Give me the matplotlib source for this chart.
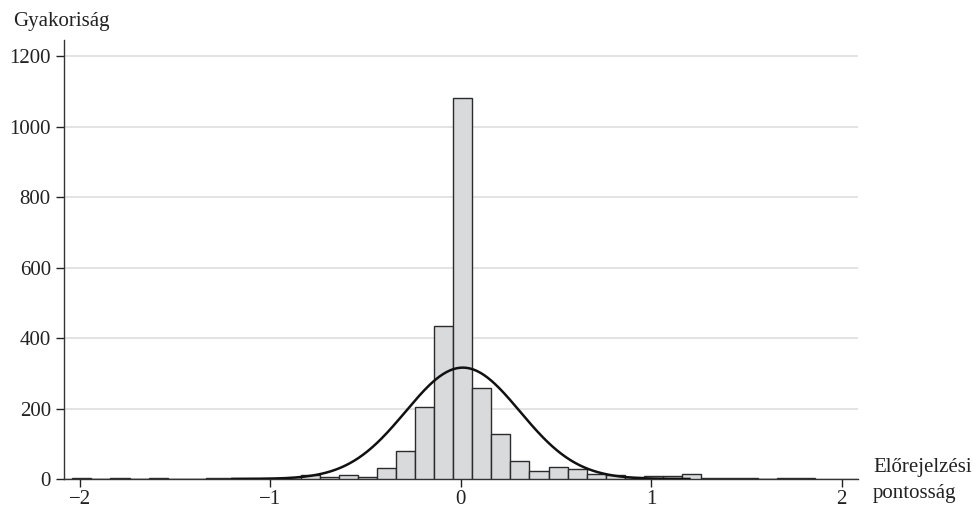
import numpy as np
import matplotlib
matplotlib.use("Agg")
import matplotlib.pyplot as plt

plt.rcParams["font.family"] = ["Liberation Serif", "DejaVu Serif"]

# histogram bins (left edges, width 0.1) and counts
bin_left = [-2.04, -1.94, -1.84, -1.74, -1.64, -1.54, -1.44, -1.34, -1.24, -1.14,
            -1.04, -0.94, -0.84, -0.74, -0.64, -0.54, -0.44, -0.34, -0.24, -0.14,
            -0.04, 0.06, 0.16, 0.26, 0.36, 0.46, 0.56, 0.66, 0.76, 0.86,
            0.96, 1.06, 1.16, 1.26, 1.36, 1.46, 1.56, 1.66, 1.76]
counts = [3, 0, 3, 0, 3, 0, 0, 2, 2, 2,
          2, 1, 10, 6, 12, 6, 31, 80, 205, 434,
          1080, 258, 128, 52, 22, 33, 28, 14, 11, 5,
          8, 8, 14, 3, 3, 3, 0, 3, 3]
bin_width = 0.1

# fitted normal curve
curve_mean = 0.01
curve_sd = 0.30
curve_peak = 316

x_ticks = [-2, -1, 0, 1, 2]
x_tick_labels = ["\u22122", "\u22121", "0", "1", "2"]
y_ticks = [0, 200, 400, 600, 800, 1000, 1200]

fig = plt.figure(figsize=(9.77, 5.15), dpi=100)
ax = fig.add_axes([0.0655, 0.0699, 0.8125, 0.852])

ax.bar(bin_left, counts, width=bin_width, align="edge",
       color="#d9dadc", edgecolor="#2b2b2b", linewidth=1.0, zorder=3)

xs = np.linspace(-1.2, 1.2, 400)
ys = curve_peak * np.exp(-0.5 * ((xs - curve_mean) / curve_sd) ** 2)
ax.plot(xs, ys, color="#111111", linewidth=1.8, zorder=4)

ax.set_xlim(-2.084, 2.084)
ax.set_ylim(0, 1245)
ax.set_xticks(x_ticks)
ax.set_xticklabels(x_tick_labels)
ax.set_yticks(y_ticks)
ax.yaxis.grid(True, color="#dedede", linewidth=1.2, zorder=0)
ax.set_axisbelow(True)

for side in ["top", "right"]:
    ax.spines[side].set_visible(False)
for side in ["left", "bottom"]:
    ax.spines[side].set_color("#333333")
    ax.spines[side].set_linewidth(1.0)
ax.tick_params(axis="both", labelsize=15, colors="#222222", length=6, width=1.0)
ax.tick_params(axis="x", pad=2)

fig.text(0.013, 0.959, "Gyakoriság", fontsize=15, color="#222222", va="center", ha="left")
fig.text(0.8936, 0.0932, "Előrejelzési", fontsize=15, color="#222222", va="center", ha="left")
fig.text(0.8936, 0.0408, "pontosság", fontsize=15, color="#222222", va="center", ha="left")

fig.savefig("out.png", dpi=100)
